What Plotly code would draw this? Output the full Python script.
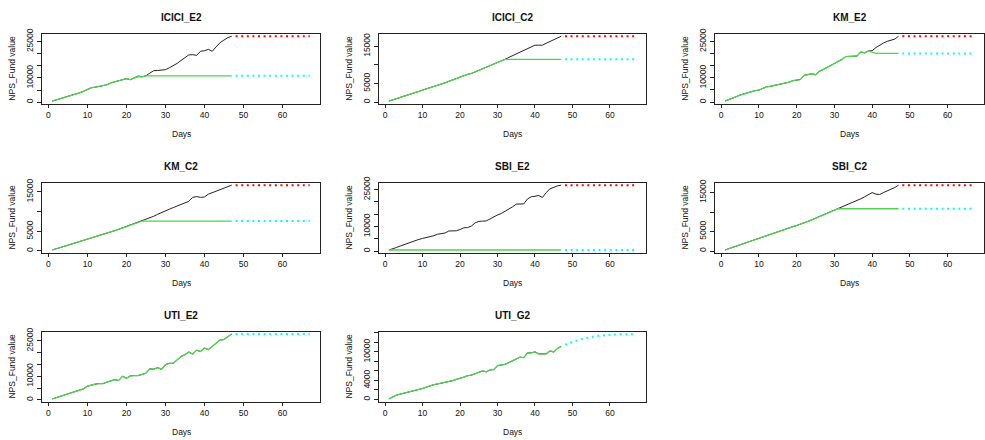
import plotly.graph_objects as go

# ---------------- data ----------------
panel_names = ["ICICI_E2", "ICICI_C2", "KM_E2", "KM_C2", "SBI_E2", "SBI_C2", "UTI_E2", "UTI_G2"]

days_hist = list(range(1, 48))
days_fut = list(range(48, 68))

black_icici_e2 = [500, 950, 1450, 1950, 2400, 2900, 3400, 3900, 4500, 5300, 6000, 6200, 6600, 6900, 7200, 8000,
                  8400, 8800, 9200, 9700, 9300, 10000, 10800, 10500, 10900, 12000, 13000, 13100, 13100, 13400,
                  14200, 15000, 16000, 17200, 18300, 19500, 19600, 19300, 21000, 21200, 21800, 21000, 22800,
                  24500, 25600, 26600, 27200]
green_icici_e2 = [500, 950, 1450, 1950, 2400, 2900, 3400, 3900, 4500, 5300, 6000, 6200, 6600, 6900, 7200, 8000,
                  8400, 8800, 9200, 9700, 9300, 10000, 10600, 10500, 10900, 10900, 10900, 10900, 10900, 10900,
                  10900, 10900, 10900, 10900, 10900, 10900, 10900, 10900, 10900, 10900, 10900, 10900, 10900,
                  10900, 10900, 10900, 10900]

black_icici_c2 = [300, 600, 900, 1250, 1600, 1900, 2250, 2550, 2900, 3250, 3550, 3900, 4200, 4500, 4800, 5200,
                  5600, 6000, 6400, 6800, 7150, 7450, 7700, 8100, 8500, 8900, 9300, 9700, 10100, 10500, 11000,
                  11500, 12000, 12500, 13000, 13500, 13900, 14300, 14800, 15300, 15300, 15300, 15800, 16300,
                  16700, 17200, 17700]
green_icici_c2 = [300, 600, 900, 1250, 1600, 1900, 2250, 2550, 2900, 3250, 3550, 3900, 4200, 4500, 4800, 5200,
                  5600, 6000, 6400, 6800, 7150, 7450, 7700, 8100, 8500, 8900, 9300, 9700, 10100, 10500, 11000,
                  11500, 11500, 11500, 11500, 11500, 11500, 11500, 11500, 11500, 11500, 11500, 11500, 11500,
                  11500, 11500, 11500]

black_km_e2 = [400, 900, 1500, 2200, 2900, 3400, 3800, 4200, 4700, 4900, 5600, 6300, 6500, 6800, 7300, 7400,
               7600, 8200, 8800, 8900, 9300, 11000, 11500, 11700, 11300, 12700, 13400, 14200, 15100, 16000,
               16700, 17600, 18800, 18800, 18900, 19000, 20700, 20300, 21100, 21200, 22500, 23600, 24400,
               25100, 25700, 26000, 27200]
green_km_e2 = [400, 900, 1500, 2200, 2900, 3400, 3800, 4200, 4700, 4900, 5600, 6300, 6500, 6800, 7300, 7400,
               7600, 8200, 8800, 8900, 9300, 11000, 11500, 11700, 11300, 12700, 13400, 14200, 15100, 16000,
               16700, 17600, 18800, 18800, 18900, 19000, 20700, 20300, 21100, 20600, 20100, 20100, 20100,
               20100, 20100, 20100, 20100]

black_km_c2 = [250, 550, 850, 1150, 1450, 1700, 2000, 2400, 2700, 2950, 3300, 3600, 3900, 4250, 4550, 4850,
               5150, 5500, 5850, 6200, 6550, 6900, 7300, 7600, 7900, 8300, 8800, 9300, 9800, 10200, 10600,
               11000, 11400, 11800, 12200, 12600, 13600, 13800, 13600, 13700, 14400, 14800, 15100, 15400,
               15800, 16200, 16700]
green_km_c2 = [250, 550, 850, 1150, 1450, 1700, 2000, 2400, 2700, 2950, 3300, 3600, 3900, 4250, 4550, 4850,
               5150, 5500, 5850, 6200, 6550, 6900, 7300, 7600, 7600, 7600, 7600, 7600, 7600, 7600, 7600,
               7600, 7600, 7600, 7600, 7600, 7600, 7600, 7600, 7600, 7600, 7600, 7600, 7600, 7600, 7600, 7600]

black_sbi_e2 = [500, 900, 1500, 2100, 2700, 3200, 3700, 4300, 4800, 5200, 5500, 5700, 6300, 6900, 7200, 7400,
                8200, 8300, 8300, 8800, 9500, 9600, 10200, 11500, 12100, 12200, 12300, 13100, 14000, 14700,
                15300, 16200, 16900, 18000, 19100, 19200, 19200, 21200, 22100, 22300, 22600, 21800, 23800,
                25300, 26000, 26500, 26800]
green_sbi_e2 = [500, 500, 500, 500, 500, 500, 500, 500, 500, 500, 500, 500, 500, 500, 500, 500, 500, 500, 500,
                500, 500, 500, 500, 500, 500, 500, 500, 500, 500, 500, 500, 500, 500, 500, 500, 500, 500, 500,
                500, 500, 500, 500, 500, 500, 500, 500, 500]

black_sbi_c2 = [260, 600, 950, 1300, 1650, 1950, 2300, 2650, 3000, 3300, 3650, 4000, 4300, 4600, 4950, 5300,
                5600, 5900, 6250, 6550, 6850, 7250, 7600, 8000, 8400, 8800, 9200, 9600, 10000, 10400, 10850,
                11400, 11800, 12200, 12600, 13000, 13400, 13900, 14500, 15000, 14600, 14500, 15000, 15400,
                15800, 16300, 16900]
green_sbi_c2 = [260, 600, 950, 1300, 1650, 1950, 2300, 2650, 3000, 3300, 3650, 4000, 4300, 4600, 4950, 5300,
                5600, 5900, 6250, 6550, 6850, 7250, 7600, 8000, 8400, 8800, 9200, 9600, 10000, 10400, 10850,
                10850, 10850, 10850, 10850, 10850, 10850, 10850, 10850, 10850, 10850, 10850, 10850, 10850,
                10850, 10850, 10850]

black_uti_e2 = [400, 900, 1400, 2000, 2500, 3000, 3500, 4100, 4700, 5800, 6300, 6700, 6900, 6900, 7500, 8000,
                8600, 8200, 10000, 9200, 10200, 10300, 10300, 10800, 11300, 13200, 13000, 13700, 12900, 14900,
                15500, 15500, 17000, 18400, 19200, 20300, 19400, 21100, 20500, 22000, 21300, 22600, 23700,
                25400, 25600, 26700, 27900]
green_uti_e2 = black_uti_e2

black_uti_g2 = [100, 500, 900, 1100, 1300, 1500, 1600, 1750, 2000, 2300, 2600, 2900, 3100, 3250, 3400, 3550,
                3700, 3950, 4200, 4400, 4700, 5000, 5100, 5400, 5700, 6000, 5800, 6200, 6300, 7100, 7250, 7400,
                7750, 8100, 8500, 8900, 8800, 9800, 9800, 10000, 9600, 9650, 9600, 10200, 10000, 10700, 11200]
green_uti_g2 = black_uti_g2

# dotted future levels (red = portfolio value, cyan = invested/projection)
red_level = [27200, 17700, 27200, 16700, 26800, 16900, None, None]
cyan_level = [10900, 11500, 20100, 7600, 500, 10850, 27900, None]
cyan_uti_g2 = [11550, 11850, 12100, 12350, 12600, 12800, 13000, 13150, 13300, 13400, 13500, 13550, 13600,
               13650, 13700, 13720, 13740, 13750, 13760, 13760]

black_series = [black_icici_e2, black_icici_c2, black_km_e2, black_km_c2, black_sbi_e2, black_sbi_c2,
                black_uti_e2, black_uti_g2]
green_series = [green_icici_e2, green_icici_c2, green_km_e2, green_km_c2, green_sbi_e2, green_sbi_c2,
                green_uti_e2, green_uti_g2]

x_ticks = [0, 10, 20, 30, 40, 50, 60]
y_tickvals = [
    [0, 5000, 10000, 15000, 20000, 25000],
    [0, 5000, 10000, 15000],
    [0, 5000, 10000, 15000, 20000, 25000],
    [0, 5000, 10000, 15000],
    [0, 5000, 10000, 15000, 20000, 25000],
    [0, 5000, 10000, 15000],
    [0, 5000, 10000, 15000, 20000, 25000],
    [0, 2000, 4000, 6000, 8000, 10000, 12000, 14000],
]
y_ticktext = [
    ["0", "", "10000", "", "", "25000"],
    ["0", "5000", "", "15000"],
    ["0", "", "10000", "", "", "25000"],
    ["0", "5000", "", "15000"],
    ["0", "", "10000", "", "", "25000"],
    ["0", "5000", "", "15000"],
    ["0", "", "10000", "", "", "25000"],
    ["0", "", "4000", "", "", "10000", "", ""],
]

# ---------------- layout geometry (pixels) ----------------
W, H = 985, 440
col_left = [42, 379, 715]
col_right = [320, 646, 984]
row_top = [28, 179, 330]
row_bot = [99, 250, 401]

GREEN = "#4FD24F"
FONT = "Liberation Sans, Arial, sans-serif"

fig = go.Figure()
annotations = []
layout_axes = {}

for i, name in enumerate(panel_names):
    r, c = divmod(i, 3)
    ax = "" if i == 0 else str(i + 1)
    xref, yref = "x" + ax, "y" + ax

    blk = black_series[i]
    grn = green_series[i]
    if cyan_level[i] is not None:
        cy = [cyan_level[i]] * len(days_fut)
    else:
        cy = cyan_uti_g2
    allv = blk + grn + cy + ([red_level[i]] if red_level[i] is not None else [])
    lo, hi = min(allv), max(allv)
    span = hi - lo
    yr = [lo - 0.04 * span, hi + 0.04 * span]

    fig.add_trace(go.Scatter(x=days_hist, y=blk, mode="lines", line=dict(color="#222222", width=1),
                             xaxis=xref, yaxis=yref, showlegend=False, hoverinfo="skip"))
    fig.add_trace(go.Scatter(x=days_hist, y=grn, mode="lines", line=dict(color=GREEN, width=1.3),
                             xaxis=xref, yaxis=yref, showlegend=False, hoverinfo="skip"))
    if red_level[i] is not None:
        fig.add_trace(go.Scatter(x=days_fut, y=[red_level[i]] * len(days_fut), mode="lines",
                                 line=dict(color="#FF0000", width=2, dash="2px,3.6px"),
                                 xaxis=xref, yaxis=yref, showlegend=False, hoverinfo="skip"))
    fig.add_trace(go.Scatter(x=days_fut, y=cy, mode="lines",
                             line=dict(color="#00FFFF", width=2, dash="2px,3.6px"),
                             xaxis=xref, yaxis=yref, showlegend=False, hoverinfo="skip"))

    xd = [col_left[c] / W, col_right[c] / W]
    yd = [1 - row_bot[r] / H, 1 - row_top[r] / H]
    common = dict(showline=True, linecolor="#222222", linewidth=1, mirror=True, showgrid=False,
                  zeroline=False, ticks="outside", tickcolor="#222222",
                  tickfont=dict(family=FONT, size=8.5, color="#111111"))
    layout_axes["xaxis" + ax] = dict(domain=xd, range=[-1.64, 69.64], tickvals=x_ticks, ticklen=3,
                                     anchor=yref, ticklabelstandoff=0, **common)
    layout_axes["yaxis" + ax] = dict(domain=yd, range=yr, tickvals=y_tickvals[i], ticktext=y_ticktext[i],
                                     ticklen=4, tickangle=-90, anchor=xref, ticklabelstandoff=1, **common)

    cx = (col_left[c] + col_right[c]) / 2 / W
    annotations.append(dict(text="<b>%s</b>" % name, x=cx, y=1 - (row_top[r] - 16) / H, xref="paper",
                            yref="paper", showarrow=False, font=dict(family=FONT, size=10, color="#111111"),
                            xanchor="center", yanchor="middle"))
    annotations.append(dict(text="Days", x=cx, y=1 - (row_bot[r] + 31) / H, xref="paper", yref="paper",
                            showarrow=False, font=dict(family=FONT, size=8.5, color="#111111"),
                            xanchor="center", yanchor="middle"))
    annotations.append(dict(text="NPS_Fund value", x=(col_left[c] - 30) / W,
                            y=1 - (row_top[r] + row_bot[r]) / 2 / H, xref="paper", yref="paper",
                            showarrow=False, textangle=-90, font=dict(family=FONT, size=8.5, color="#111111"),
                            xanchor="center", yanchor="middle"))

fig.update_layout(width=W, height=H, margin=dict(l=0, r=0, t=0, b=0), plot_bgcolor="white",
                  paper_bgcolor="white", annotations=annotations, **layout_axes)

fig.write_html("out.html")
